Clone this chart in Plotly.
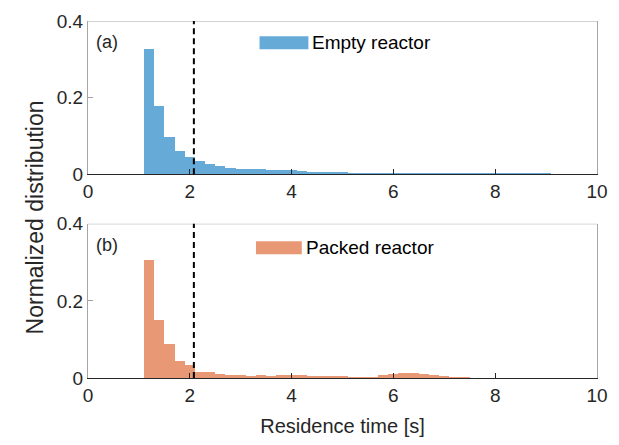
import plotly.graph_objects as go

# Bin centers (bin width 0.2 s starting at 1.1 s)
empty_centers = [1.2, 1.4, 1.6, 1.8, 2.0, 2.2, 2.4, 2.6, 2.8, 3.0, 3.2, 3.4, 3.6, 3.8, 4.0,
                 4.2, 4.4, 4.6, 4.8, 5.0, 5.2, 5.4, 5.6, 5.8, 6.0, 6.2, 6.4, 6.6, 6.8, 7.0,
                 7.2, 7.4, 7.6, 7.8, 8.0, 8.2, 8.4, 8.6, 8.8, 9.0]
empty_values = [0.327, 0.178, 0.097, 0.060, 0.046, 0.036, 0.028, 0.021, 0.017, 0.015,
                0.014, 0.013, 0.011, 0.010, 0.010, 0.008, 0.007, 0.006, 0.005, 0.005,
                0.004, 0.004, 0.004, 0.003, 0.003, 0.002, 0.002, 0.002, 0.002, 0.002,
                0.001, 0.001, 0.001, 0.001, 0.001, 0.001, 0.001, 0.001, 0.001, 0.001]

packed_centers = [1.2, 1.4, 1.6, 1.8, 2.0, 2.2, 2.4, 2.6, 2.8, 3.0, 3.2, 3.4, 3.6, 3.8, 4.0,
                  4.2, 4.4, 4.6, 4.8, 5.0, 5.2, 5.4, 5.6, 5.8, 6.0, 6.2, 6.4, 6.6, 6.8, 7.0,
                  7.2, 7.4]
packed_values = [0.306, 0.152, 0.088, 0.044, 0.034, 0.015, 0.017, 0.010, 0.008, 0.008,
                 0.006, 0.008, 0.005, 0.009, 0.009, 0.009, 0.006, 0.005, 0.005, 0.005,
                 0.004, 0.003, 0.004, 0.009, 0.012, 0.013, 0.013, 0.012, 0.008, 0.006,
                 0.004, 0.003]

bin_width = 0.2
mean_time = 2.08
x_ticks = [0, 2, 4, 6, 8, 10]
y_ticks = [0, 0.2, 0.4]
y_tick_labels = ["0", "0.2", "0.4"]

blue = "rgb(102,170,215)"
orange = "rgb(232,152,117)"
txt = "#262626"
font_family = "Liberation Sans, Arial, sans-serif"

fig = go.Figure()
fig.add_trace(go.Bar(x=empty_centers, y=empty_values, width=bin_width, marker_color=blue,
                     marker_line_width=0, xaxis="x", yaxis="y", showlegend=False))
fig.add_trace(go.Bar(x=packed_centers, y=packed_values, width=bin_width, marker_color=orange,
                     marker_line_width=0, xaxis="x2", yaxis="y2", showlegend=False))

axis_common = dict(range=[0, 10], tickvals=x_ticks, ticks="inside", ticklen=5,
                   tickcolor=txt, tickfont=dict(size=19, color=txt, family=font_family),
                   showgrid=False, zeroline=False, showline=True, linecolor=txt,
                   linewidth=1, mirror=False)
yaxis_common = dict(range=[0, 0.4], tickvals=y_ticks, ticktext=y_tick_labels,
                    ticks="inside", ticklen=5, tickcolor="#a0a0a0",
                    tickfont=dict(size=19, color=txt, family=font_family),
                    showgrid=False, zeroline=False, showline=True, linecolor="#a6a6a6",
                    linewidth=1, mirror=True)

fig.update_layout(
    width=619, height=445,
    margin=dict(l=88, r=11, t=20, b=64),
    plot_bgcolor="white", paper_bgcolor="white",
    bargap=0, barmode="overlay",
    font=dict(family=font_family, color=txt),
    xaxis=dict(axis_common, anchor="y", domain=[0, 1]),
    yaxis=dict(yaxis_common, anchor="x", domain=[0.5706, 1]),
    xaxis2=dict(axis_common, anchor="y2", domain=[0, 1],
                title=dict(text="Residence time [s]", font=dict(size=20, color=txt),
                           standoff=14)),
    yaxis2=dict(yaxis_common, anchor="x2", domain=[0, 0.432]),
)

# top borders of both panels and dashed mean lines
for xr, yr in (("x", "y"), ("x2", "y2")):
    fig.add_shape(type="line", xref=f"{xr} domain", yref=yr, x0=0, x1=1, y0=0.4, y1=0.4,
                  line=dict(color="#a6a6a6", width=1))
    fig.add_shape(type="line", xref=xr, yref=f"{yr} domain", x0=mean_time, x1=mean_time,
                  y0=0, y1=1, line=dict(color="black", width=2, dash="6px,4px"))

# panel labels
fig.add_annotation(text="(a)", xref="x domain", yref="y domain", x=0.012, y=0.86,
                   xanchor="left", yanchor="middle", showarrow=False,
                   font=dict(size=18, color=txt))
fig.add_annotation(text="(b)", xref="x2 domain", yref="y2 domain", x=0.012, y=0.86,
                   xanchor="left", yanchor="middle", showarrow=False,
                   font=dict(size=18, color=txt))

# legends drawn as patch + text
def legend(xref, yref, x0, x1, yc, color, label):
    fig.add_shape(type="rect", xref=xref, yref=yref, x0=x0, x1=x1,
                  y0=yc - 0.017, y1=yc + 0.017, fillcolor=color, line=dict(width=0))
    fig.add_annotation(text=label, xref=xref, yref=yref, x=x1 + 0.04, y=yc,
                       xanchor="left", yanchor="middle", showarrow=False,
                       font=dict(size=19, color="black"))

legend("x", "y", 3.37, 4.33, 0.343, blue, "Empty reactor")
legend("x2", "y2", 3.3, 4.2, 0.338, orange, "Packed reactor")

# y axis title spanning both panels
fig.add_annotation(text="Normalized distribution", xref="paper", yref="paper",
                   x=-0.104, y=0.45, xanchor="center", yanchor="middle", textangle=-90,
                   showarrow=False, font=dict(size=23, color=txt))

fig.write_html("out.html")
